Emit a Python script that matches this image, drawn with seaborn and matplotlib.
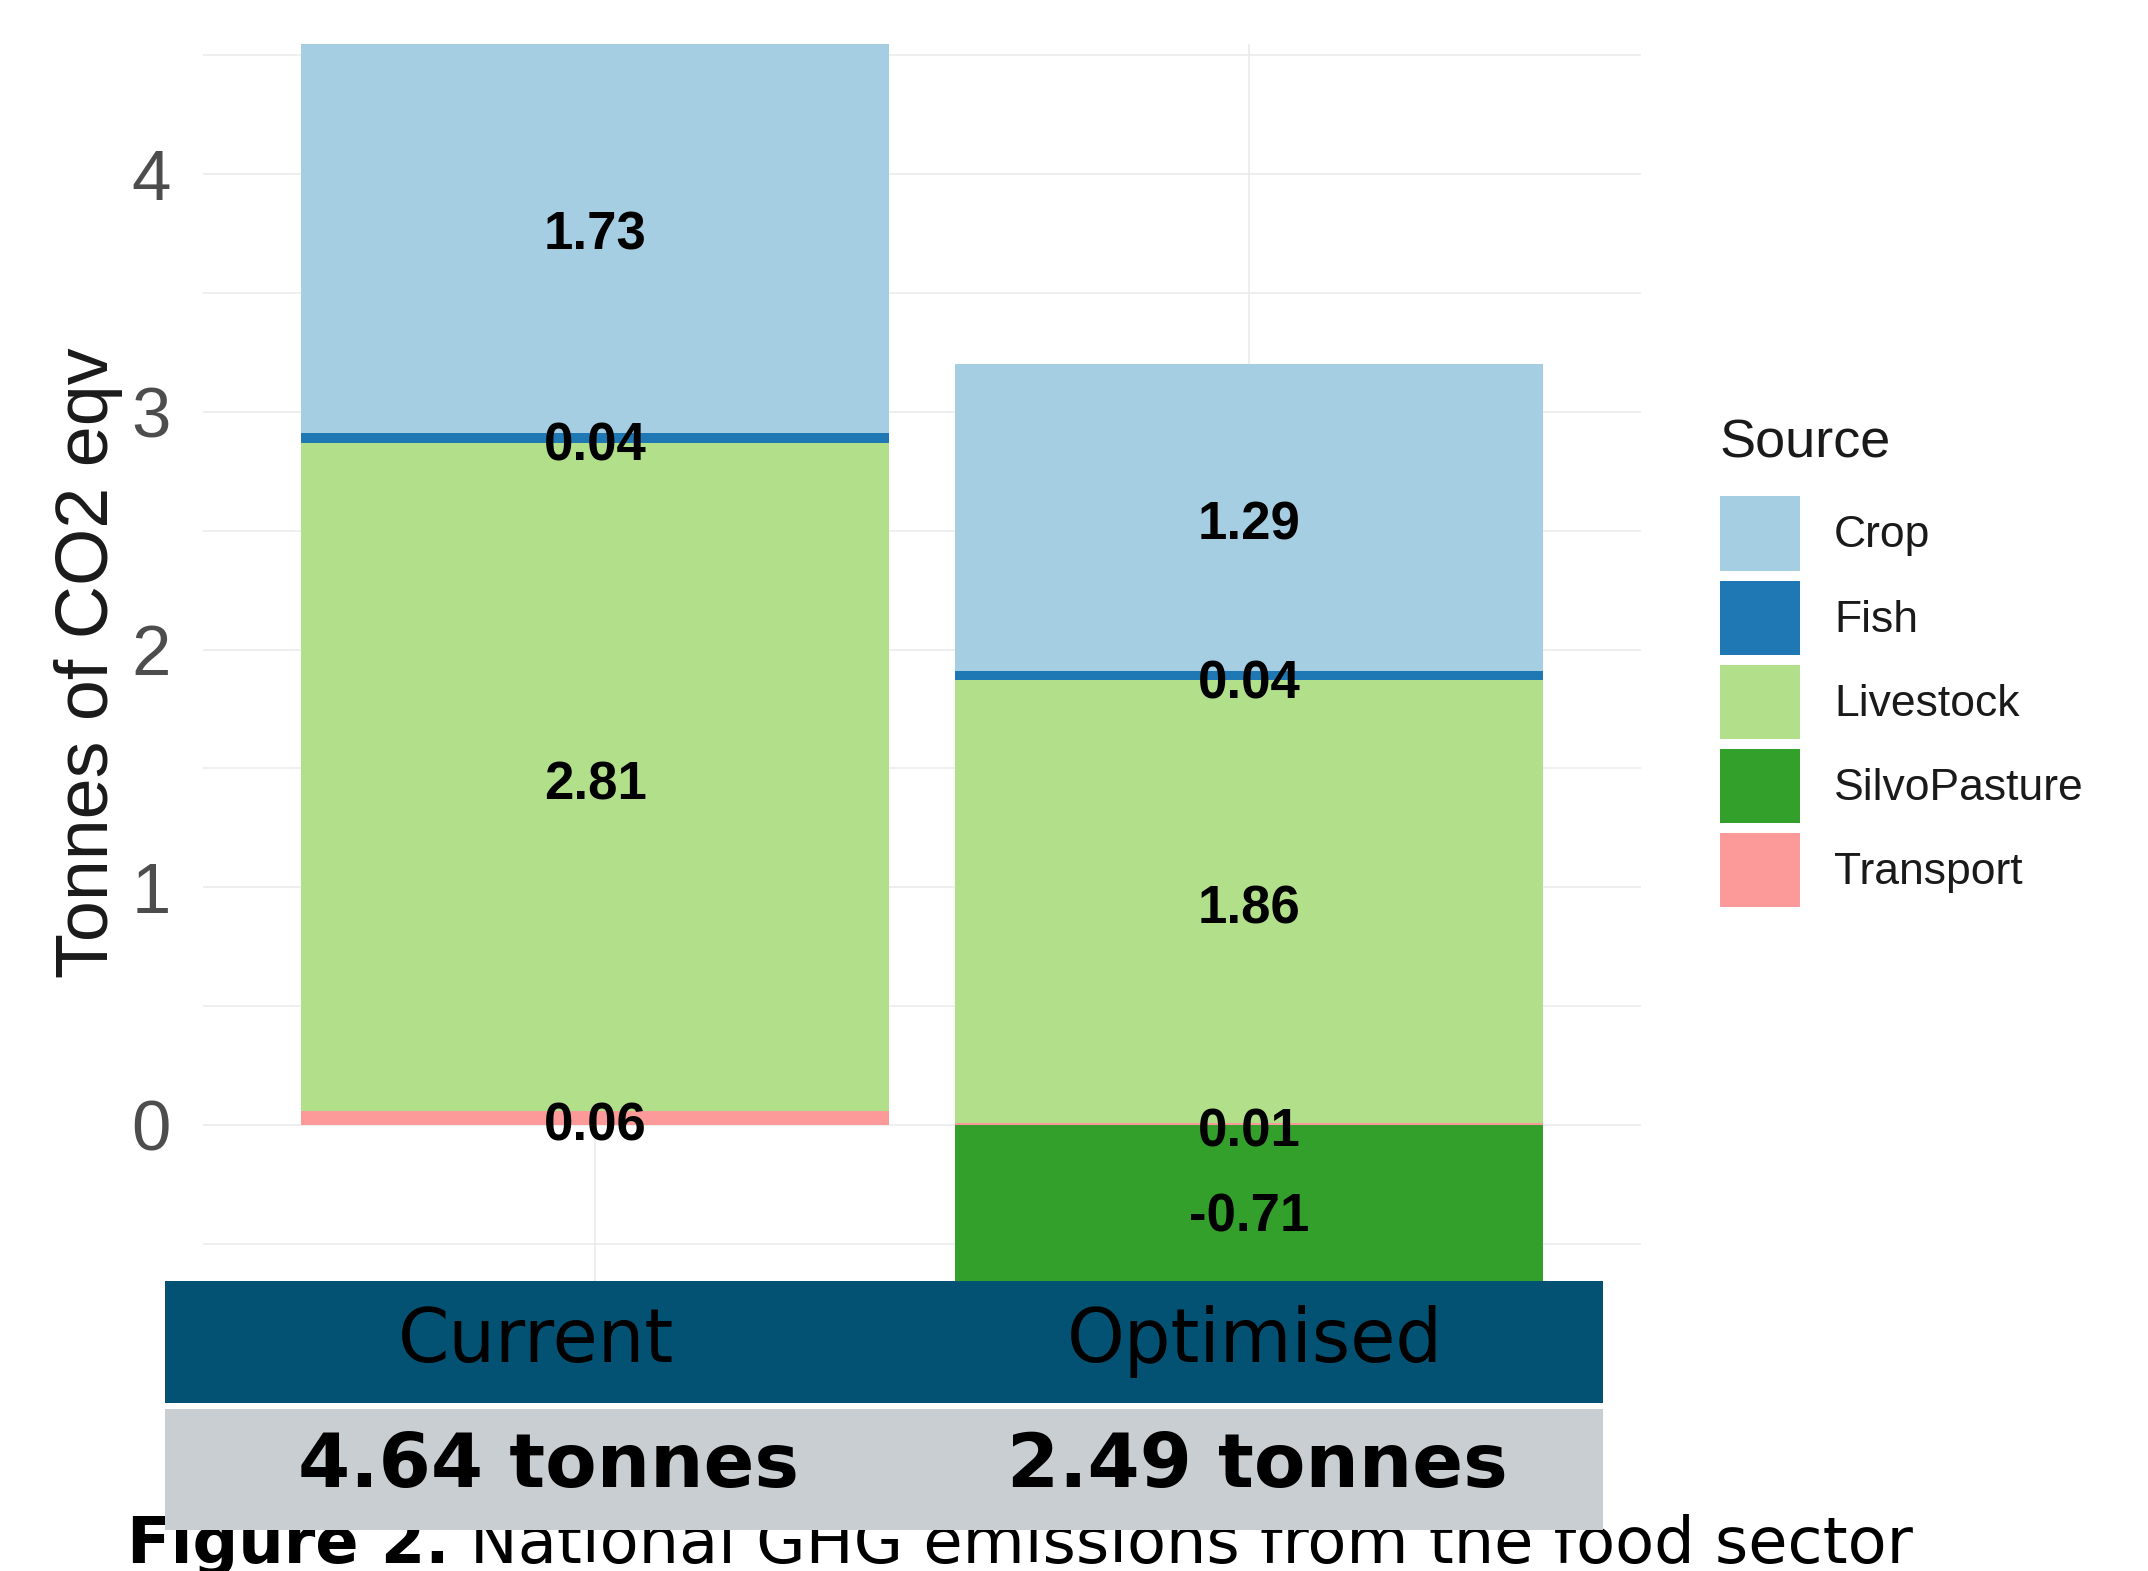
import matplotlib
matplotlib.use("Agg")
import matplotlib.pyplot as plt
import seaborn as sns
import numpy as np
from matplotlib.patches import Rectangle
from matplotlib.ticker import MultipleLocator
from matplotlib.legend_handler import HandlerPatch

# data
scenarios = ["Current", "Optimised"]
sources = ["Crop", "Fish", "Livestock", "SilvoPasture", "Transport"]
crop = [1.73, 1.29]
fish = [0.04, 0.04]
livestock = [2.81, 1.86]
silvopasture = [0.00, -0.71]
transport = [0.06, 0.01]
palette = ["#A6CEE3", "#1F78B4", "#B2DF8A", "#33A02C", "#FB9A99"]
caption_bold = "Figure 2."
caption_rest = "National GHG emissions from the food sector"

values = {
    "Crop": np.array(crop),
    "Fish": np.array(fish),
    "Livestock": np.array(livestock),
    "SilvoPasture": np.array(silvopasture),
    "Transport": np.array(transport),
}

sns.set_theme(style="whitegrid")
plt.rcParams["font.family"] = ["Liberation Sans", "DejaVu Sans"]

fig = plt.figure(figsize=(21.48, 15.71), dpi=100)
ax = fig.add_axes([0.0945, 0.1846, 0.6695, 0.7874])

# ggplot-style stacking: last level at the bottom, negatives below zero
pos_base = np.zeros(len(scenarios))
neg_base = np.zeros(len(scenarios))
bottoms = {}
for src in reversed(sources):
    v = values[src]
    b = np.where(v >= 0, pos_base, neg_base)
    bottoms[src] = b
    pos_base = pos_base + np.where(v >= 0, v, 0)
    neg_base = neg_base + np.where(v < 0, v, 0)

for src, col in zip(sources, palette):
    sns.barplot(x=scenarios, y=values[src], bottom=bottoms[src], color=col,
                width=0.9, errorbar=None, linewidth=0, label=src, ax=ax,
                saturation=1)

# segment labels
for src in sources:
    v = values[src]
    for i, val in enumerate(v):
        if val == 0:
            continue
        ax.annotate(f"{val:.2f}", (i, bottoms[src][i] + val / 2),
                    xytext=(0, -6), textcoords="offset points",
                    ha="center", va="center", fontsize=38,
                    fontweight="bold", color="black", zorder=5)

ax.set_xlim(-0.6, 1.6)
ax.set_ylim(-0.656, 4.547)
ax.set_xticks([0, 1])
ax.set_xticklabels(["", ""])
ax.set_yticks([0, 1, 2, 3, 4])
ax.yaxis.set_minor_locator(MultipleLocator(0.5))
ax.set_axisbelow(True)
ax.grid(which="major", axis="both", color="#EBEBEB", linewidth=1.2)
ax.grid(which="minor", axis="y", color="#EBEBEB", linewidth=1.1)
ax.tick_params(axis="both", which="both", length=0)
ax.tick_params(axis="y", labelsize=51, labelcolor="#4D4D4D", pad=23)
for s in ax.spines.values():
    s.set_visible(False)
ax.set_xlabel("")
ax.set_ylabel("Tonnes of CO2 eqv", fontsize=53, color="#1A1A1A")
ax.yaxis.set_label_coords(-0.0555, 0.5)


def tall_key(legend, orig_handle, xdescent, ydescent, width, height, fontsize):
    return Rectangle((-xdescent, -ydescent), width, height)


handles, labels = ax.get_legend_handles_labels()
leg = ax.legend(handles, labels, title="Source", loc="upper left",
                bbox_to_anchor=(0.8007, 0.7335), bbox_transform=fig.transFigure,
                frameon=False, fontsize=32, title_fontsize=39,
                handlelength=1.8, handleheight=2.19, labelspacing=0.225,
                handletextpad=0.77, borderpad=0, borderaxespad=0,
                alignment="left",
                handler_map={Rectangle: HandlerPatch(patch_func=tall_key)})
leg._legend_box.sep = 20
for t in leg.get_texts():
    t.set_color("#1A1A1A")
leg.get_title().set_color("#1A1A1A")

# summary table under the chart
fig.text(127 / 2148, 1 - 1563 / 1571, caption_bold, fontsize=46,
         fontweight="bold", family="DejaVu Sans", color="black", zorder=1,
         va="baseline", ha="left")
fig.text(470 / 2148, 1 - 1563 / 1571, caption_rest, fontsize=46,
         family="DejaVu Sans", color="black", zorder=1, va="baseline",
         ha="left")
fig.add_artist(Rectangle((165 / 2148, 1 - 1403 / 1571), 1438 / 2148,
                         122 / 1571, transform=fig.transFigure,
                         facecolor="#045273", edgecolor="none", zorder=2))
fig.add_artist(Rectangle((165 / 2148, 1 - 1530 / 1571), 1438 / 2148,
                         121 / 1571, transform=fig.transFigure,
                         facecolor="#C9CED2", edgecolor="none", zorder=2))

totals = [values[s] for s in sources]
totals = np.sum(totals, axis=0)
header_x = [536 / 2148, 1255 / 2148]
total_x = [548 / 2148, 1257 / 2148]
for i, name in enumerate(scenarios):
    fig.text(header_x[i], 1 - 1362 / 1571, name, fontsize=53,
             family="DejaVu Sans", color="black", ha="center",
             va="baseline", zorder=3)
    fig.text(total_x[i], 1 - 1487 / 1571, f"{totals[i]:.2f} tonnes",
             fontsize=54, fontweight="bold", family="DejaVu Sans",
             color="black", ha="center", va="baseline", zorder=3)

fig.savefig("out.png", dpi=100)
plt.close(fig)
